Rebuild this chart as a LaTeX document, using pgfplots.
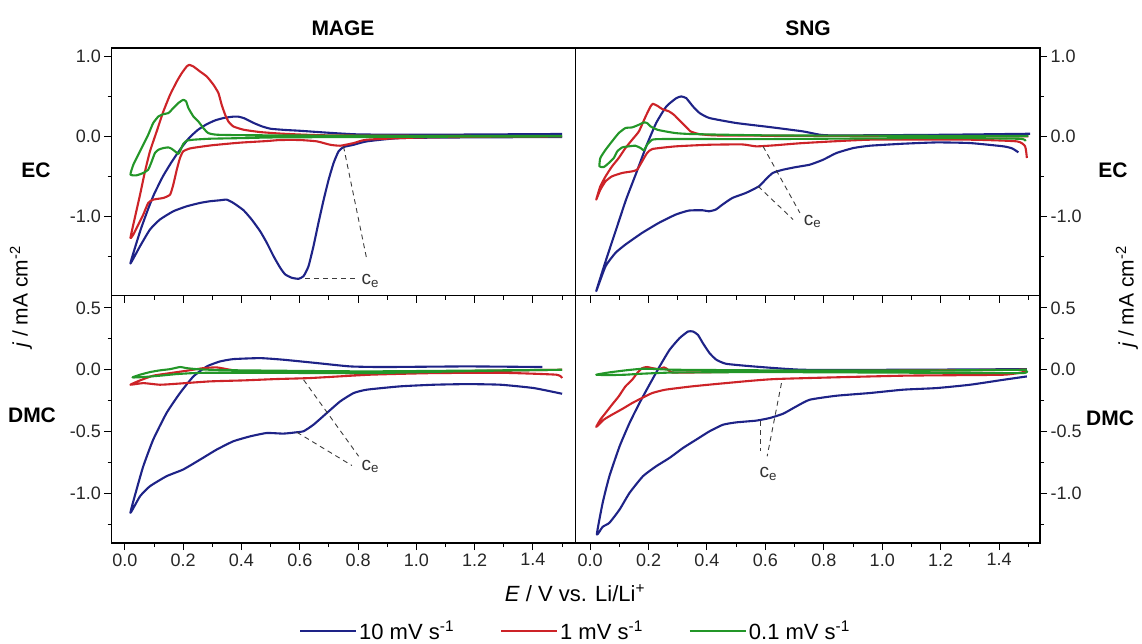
\documentclass[border=0pt]{standalone}
\usepackage{pgfplots}
\pgfplotsset{compat=1.18}
\usepackage{fontspec}
\setmainfont{Liberation Sans}
\definecolor{cvblue}{RGB}{30,35,135}
\definecolor{cvred}{RGB}{205,35,40}
\definecolor{cvgreen}{RGB}{35,150,40}
\definecolor{dashgray}{RGB}{60,60,60}
\tikzset{
  ce/.style={dashgray, line width=0.9pt, dash pattern=on 5pt off 4pt},
  celabel/.style={font=\fontsize{19}{21}\selectfont, text=black!80},
}
\pgfplotsset{
  panel/.style={
    scale only axis, width=464pt, height=247.5pt,
    axis line style={line width=1.2pt},
    tick style={black, line width=1pt},
    major tick length=7pt, minor tick length=4pt,
    tick align=outside,
    xtick={0,0.2,0.4,0.6,0.8,1.0,1.2,1.4},
    minor xtick={0.1,0.3,0.5,0.7,0.9,1.1,1.3,1.5},
    xtick pos=bottom,
    ticklabel style={font=\fontsize{18}{20}\selectfont, text=black!85},
    every axis plot/.append style={line width=2.1pt, line join=round, smooth, tension=0.3, mark=none},
  },
  toprow/.style={ymin=-1.98, ymax=1.1, ytick={-1,0,1}, yticklabels={-1.0,0.0,1.0}, minor ytick={-1.5,-0.5,0.5}, xticklabels={}},
  botrow/.style={ymin=-1.4, ymax=0.6, ytick={-1,-0.5,0,0.5}, yticklabels={-1.0,-0.5,0.0,0.5}, minor ytick={-1.25,-0.75,-0.25,0.25}, xticklabels={0.0,0.2,0.4,0.6,0.8,1.0,1.2,1.4}},
  leftcol/.style={xmin=-0.046, xmax=1.546, ytick pos=left, yticklabel pos=left},
  rightcol/.style={xmin=-0.05, xmax=1.54, ytick pos=right, yticklabel pos=right, width=464.5pt},
}
\begin{document}
\begin{tikzpicture}
\path[use as bounding box] (0pt,0pt) rectangle (1142pt,-644pt);

% ---------------- MAGE / EC ----------------
\begin{axis}[panel, toprow, leftcol, at={(111.5pt,-48pt)}, anchor=north west]
\addplot[cvblue] coordinates {
(1.50,-0.008) (1.20,-0.012) (0.945,-0.021) (0.83,-0.062) (0.785,-0.104) (0.750,-0.133) (0.733,-0.186) (0.716,-0.331) (0.699,-0.538) (0.682,-0.787) (0.664,-1.077) (0.647,-1.366) (0.630,-1.615) (0.613,-1.739) (0.596,-1.772) (0.573,-1.760) (0.550,-1.718) (0.533,-1.636) (0.510,-1.491) (0.487,-1.325) (0.464,-1.180) (0.435,-1.035) (0.407,-0.919) (0.372,-0.828) (0.349,-0.787) (0.326,-0.795) (0.292,-0.807) (0.258,-0.828) (0.212,-0.870) (0.166,-0.932) (0.120,-1.035) (0.086,-1.159) (0.052,-1.366) (0.019,-1.582)
(0.035,-1.38) (0.055,-1.15) (0.080,-0.90) (0.100,-0.72) (0.130,-0.50) (0.160,-0.32) (0.190,-0.16) (0.220,-0.02) (0.250,0.08) (0.280,0.15) (0.310,0.20) (0.340,0.23) (0.370,0.245) (0.390,0.245) (0.410,0.225) (0.440,0.17) (0.470,0.125) (0.500,0.095) (0.550,0.08) (0.600,0.07) (0.700,0.045) (0.800,0.025) (1.00,0.02) (1.50,0.03)};
\addplot[cvred] coordinates {
(1.50,0.0) (1.20,-0.005) (1.00,-0.015) (0.83,-0.041) (0.785,-0.083) (0.739,-0.116) (0.704,-0.104) (0.659,-0.062) (0.60,-0.045) (0.533,-0.045) (0.487,-0.058) (0.407,-0.075) (0.372,-0.085) (0.30,-0.110) (0.258,-0.13) (0.223,-0.150) (0.200,-0.186) (0.189,-0.269) (0.178,-0.414) (0.166,-0.600) (0.155,-0.725) (0.132,-0.766) (0.097,-0.787) (0.080,-0.828) (0.063,-0.973) (0.046,-1.097) (0.029,-1.221) (0.019,-1.263)
(0.034,-1.014) (0.052,-0.725) (0.069,-0.435) (0.086,-0.186) (0.109,0.062) (0.132,0.311) (0.155,0.518) (0.178,0.683) (0.195,0.787) (0.212,0.870) (0.221,0.890) (0.235,0.870) (0.258,0.807) (0.281,0.745) (0.304,0.642) (0.321,0.538) (0.332,0.393) (0.344,0.269) (0.355,0.186) (0.372,0.124) (0.407,0.083) (0.464,0.054) (0.544,0.033) (0.716,0.012) (1.50,0.0)};
\addplot[cvgreen] coordinates {
(1.50,0.0) (1.00,-0.005) (0.533,-0.012) (0.407,-0.021) (0.292,-0.029) (0.235,-0.041) (0.212,-0.054) (0.200,-0.095) (0.189,-0.186) (0.183,-0.219) (0.172,-0.186) (0.160,-0.153) (0.149,-0.137) (0.132,-0.145) (0.115,-0.166) (0.103,-0.207) (0.092,-0.311) (0.080,-0.414) (0.063,-0.455) (0.040,-0.484) (0.019,-0.476)
(0.029,-0.352) (0.046,-0.228) (0.063,-0.104) (0.080,0.021) (0.097,0.166) (0.115,0.248) (0.132,0.277) (0.149,0.290) (0.166,0.352) (0.183,0.414) (0.200,0.455) (0.210,0.435) (0.218,0.352) (0.235,0.248) (0.252,0.186) (0.269,0.104) (0.286,0.041) (0.315,0.021) (0.407,0.015) (0.80,0.008) (1.50,0.005)};
\draw[ce] (axis cs:0.750,-0.124) -- (axis cs:0.830,-1.532);
\draw[ce] (axis cs:0.619,-1.772) -- (axis cs:0.796,-1.772);
\node[celabel, anchor=west] at (axis cs:0.80,-1.80) {c\textsubscript{e}};
\end{axis}

% ---------------- SNG / EC ----------------
\begin{axis}[panel, toprow, rightcol, at={(575.5pt,-48pt)}, anchor=north west]
\addplot[cvblue] coordinates {
(1.466,-0.199) (1.445,-0.150) (1.415,-0.124) (1.301,-0.083) (1.186,-0.075) (1.072,-0.091) (0.958,-0.116) (0.901,-0.145) (0.843,-0.207) (0.798,-0.290) (0.752,-0.352) (0.706,-0.381) (0.661,-0.414) (0.625,-0.455) (0.600,-0.540) (0.578,-0.621) (0.533,-0.704) (0.487,-0.766) (0.453,-0.849) (0.430,-0.911) (0.407,-0.932) (0.384,-0.919) (0.338,-0.923) (0.293,-0.973) (0.235,-1.077) (0.178,-1.201) (0.121,-1.346) (0.087,-1.449) (0.053,-1.615) (0.021,-1.925)
(0.055,-1.532) (0.089,-1.159) (0.123,-0.787) (0.158,-0.455) (0.192,-0.124) (0.226,0.166) (0.261,0.373) (0.295,0.476) (0.312,0.497) (0.329,0.476) (0.352,0.373) (0.375,0.290) (0.409,0.228) (0.501,0.166) (0.615,0.116) (0.729,0.062) (0.786,0.021) (0.843,0.012) (1.20,0.02) (1.506,0.033)};
\addplot[cvred] coordinates {
(1.495,-0.269) (1.489,-0.124) (1.461,-0.062) (1.301,-0.041) (0.958,-0.041) (0.729,-0.083) (0.635,-0.110) (0.569,-0.124) (0.521,-0.100) (0.407,-0.104) (0.293,-0.124) (0.213,-0.157) (0.195,-0.207) (0.178,-0.311) (0.161,-0.414) (0.144,-0.435) (0.110,-0.455) (0.075,-0.497) (0.053,-0.559) (0.035,-0.663) (0.021,-0.787)
(0.035,-0.621) (0.053,-0.497) (0.075,-0.373) (0.098,-0.269) (0.121,-0.145) (0.144,-0.041) (0.167,0.062) (0.190,0.248) (0.207,0.373) (0.215,0.406) (0.230,0.381) (0.247,0.340) (0.270,0.311) (0.287,0.269) (0.304,0.207) (0.327,0.124) (0.344,0.062) (0.373,0.029) (0.430,0.012) (0.635,0.008) (1.50,0.0)};
\addplot[cvgreen] coordinates {
(1.49,-0.06) (1.47,-0.03) (1.20,-0.02) (0.635,-0.033) (0.407,-0.033) (0.247,-0.033) (0.213,-0.041) (0.195,-0.104) (0.184,-0.174) (0.173,-0.145) (0.155,-0.116) (0.133,-0.124) (0.110,-0.137) (0.093,-0.186) (0.081,-0.269) (0.064,-0.331) (0.047,-0.381) (0.032,-0.373)
(0.035,-0.269) (0.053,-0.166) (0.075,-0.062) (0.098,0.041) (0.121,0.104) (0.144,0.112) (0.167,0.145) (0.184,0.174) (0.195,0.166) (0.207,0.124) (0.230,0.083) (0.258,0.062) (0.293,0.041) (0.350,0.029) (0.635,0.012) (1.50,0.005)};
\draw[ce] (axis cs:0.592,-0.124) -- (axis cs:0.718,-0.952);
\draw[ce] (axis cs:0.575,-0.621) -- (axis cs:0.695,-1.035);
\node[celabel, anchor=west] at (axis cs:0.72,-1.06) {c\textsubscript{e}};
\end{axis}

% ---------------- MAGE / DMC ----------------
\begin{axis}[panel, botrow, leftcol, at={(111.5pt,-295.5pt)}, anchor=north west,
  legend columns=3,
  legend style={at={(1.0,-0.355)}, anchor=center, draw=none, fill=none,
    font=\fontsize{22}{24}\selectfont,
    /tikz/every even column/.append style={column sep=44pt}},
  legend image code/.code={\path (0pt,0pt) -- (56pt,0pt); \draw[#1, line width=2pt] (0pt,0pt) -- (50pt,0pt);}]
\addplot[cvblue] coordinates {
(1.500,-0.194) (1.403,-0.148) (1.289,-0.121) (1.174,-0.116) (1.060,-0.121) (0.945,-0.134) (0.830,-0.161) (0.785,-0.188) (0.739,-0.255) (0.693,-0.349) (0.647,-0.444) (0.613,-0.497) (0.590,-0.505) (0.544,-0.516) (0.487,-0.511) (0.430,-0.538) (0.372,-0.578) (0.315,-0.645) (0.258,-0.726) (0.200,-0.806) (0.143,-0.860) (0.086,-0.941) (0.052,-1.022) (0.019,-1.156)
(0.040,-0.968) (0.063,-0.780) (0.097,-0.565) (0.143,-0.349) (0.189,-0.188) (0.235,-0.054) (0.281,0.027) (0.326,0.067) (0.372,0.086) (0.464,0.094) (0.544,0.081) (0.659,0.054) (0.773,0.027) (0.888,0.022) (1.174,0.027) (1.432,0.022)};
\addlegendentry{10 mV s\textsuperscript{-1}}
\addplot[cvred] coordinates {
(1.50,-0.067) (1.48,-0.04) (1.30,-0.025) (1.06,-0.027) (0.842,-0.040) (0.636,-0.067) (0.521,-0.075) (0.407,-0.086) (0.292,-0.094) (0.178,-0.113) (0.120,-0.121) (0.063,-0.108) (0.019,-0.121)
(0.052,-0.086) (0.097,-0.048) (0.155,-0.027) (0.212,-0.008) (0.269,0.013) (0.315,0.019) (0.361,0.0) (0.407,-0.013) (0.521,-0.019) (0.842,-0.027) (1.20,-0.01) (1.50,0.0)};
\addlegendentry{1 mV s\textsuperscript{-1}}
\addplot[cvgreen] coordinates {
(1.50,0.0) (1.20,-0.01) (0.842,-0.027) (0.407,-0.024) (0.292,-0.024) (0.235,-0.027) (0.178,-0.035) (0.120,-0.048) (0.063,-0.059) (0.026,-0.062)
(0.052,-0.040) (0.086,-0.019) (0.120,-0.005) (0.155,0.005) (0.189,0.022) (0.212,0.013) (0.246,0.005) (0.292,0.0) (0.407,-0.005) (0.842,-0.013) (1.50,0.0)};
\addlegendentry{0.1 mV s\textsuperscript{-1}}
\draw[ce] (axis cs:0.613,-0.081) -- (axis cs:0.802,-0.699);
\draw[ce] (axis cs:0.590,-0.505) -- (axis cs:0.779,-0.774);
\node[celabel, anchor=west] at (axis cs:0.80,-0.78) {c\textsubscript{e}};
\end{axis}

% ---------------- SNG / DMC ----------------
\begin{axis}[panel, botrow, rightcol, at={(575.5pt,-295.5pt)}, anchor=north west]
\addplot[cvblue] coordinates {
(1.495,-0.054) (1.415,-0.081) (1.301,-0.121) (1.186,-0.148) (1.072,-0.161) (0.958,-0.188) (0.843,-0.210) (0.752,-0.242) (0.706,-0.296) (0.661,-0.355) (0.615,-0.390) (0.569,-0.411) (0.501,-0.425) (0.455,-0.444) (0.409,-0.497) (0.363,-0.565) (0.318,-0.632) (0.272,-0.712) (0.226,-0.780) (0.181,-0.860) (0.135,-0.995) (0.101,-1.129) (0.066,-1.237) (0.043,-1.269) (0.023,-1.331)
(0.043,-1.075) (0.066,-0.860) (0.101,-0.618) (0.135,-0.430) (0.169,-0.269) (0.203,-0.121) (0.238,0.027) (0.272,0.161) (0.306,0.255) (0.335,0.309) (0.352,0.309) (0.369,0.282) (0.386,0.215) (0.409,0.134) (0.432,0.081) (0.466,0.048) (0.558,0.027) (0.729,0.0) (1.072,0.0) (1.495,0.005)};
\addplot[cvred] coordinates {
(1.495,-0.013) (1.415,-0.040) (1.072,-0.048) (0.635,-0.075) (0.464,-0.108) (0.350,-0.134) (0.258,-0.161) (0.213,-0.188) (0.178,-0.228) (0.144,-0.269) (0.110,-0.317) (0.075,-0.363) (0.047,-0.403) (0.021,-0.462)
(0.035,-0.403) (0.053,-0.349) (0.075,-0.282) (0.098,-0.215) (0.121,-0.134) (0.144,-0.081) (0.161,-0.027) (0.178,0.013) (0.195,0.022) (0.213,0.013) (0.235,0.005) (0.253,0.019) (0.264,0.005) (0.281,-0.022) (0.350,-0.022) (0.635,-0.013) (1.495,0.0)};
\addplot[cvgreen] coordinates {
(1.495,-0.008) (1.478,-0.027) (1.20,-0.025) (0.635,-0.019) (0.293,-0.022) (0.178,-0.032) (0.121,-0.040) (0.064,-0.043) (0.021,-0.040)
(0.064,-0.022) (0.121,-0.005) (0.178,0.008) (0.235,0.005) (0.293,0.0) (0.635,-0.005) (1.20,-0.005) (1.495,0.0)};
\draw[ce] (axis cs:0.655,-0.108) -- (axis cs:0.606,-0.699);
\draw[ce] (axis cs:0.583,-0.417) -- (axis cs:0.583,-0.659);
\node[celabel] at (axis cs:0.61,-0.84) {c\textsubscript{e}};
\end{axis}

% ---------------- labels ----------------
\node[font=\bfseries\fontsize{21}{24}\selectfont] at (343pt,-28pt) {MAGE};
\node[font=\bfseries\fontsize{21}{24}\selectfont] at (808pt,-28pt) {SNG};
\node[font=\bfseries\fontsize{21}{24}\selectfont] at (36pt,-170pt) {EC};
\node[font=\bfseries\fontsize{21}{24}\selectfont] at (1113pt,-170pt) {EC};
\node[font=\bfseries\fontsize{21}{24}\selectfont] at (32pt,-415pt) {DMC};
\node[font=\bfseries\fontsize{21}{24}\selectfont] at (1110pt,-418pt) {DMC};
\node[rotate=90, font=\fontsize{21}{23}\selectfont] at (21pt,-297pt) {\textit{j} / mA cm\textsuperscript{-2}};
\node[rotate=90, font=\fontsize{21}{23}\selectfont] at (1127pt,-297pt) {\textit{j} / mA cm\textsuperscript{-2}};
\node[font=\fontsize{22}{24}\selectfont] at (575pt,-593pt) {\textit{E} / V vs. Li/Li\textsuperscript{+}};
\end{tikzpicture}
\end{document}
